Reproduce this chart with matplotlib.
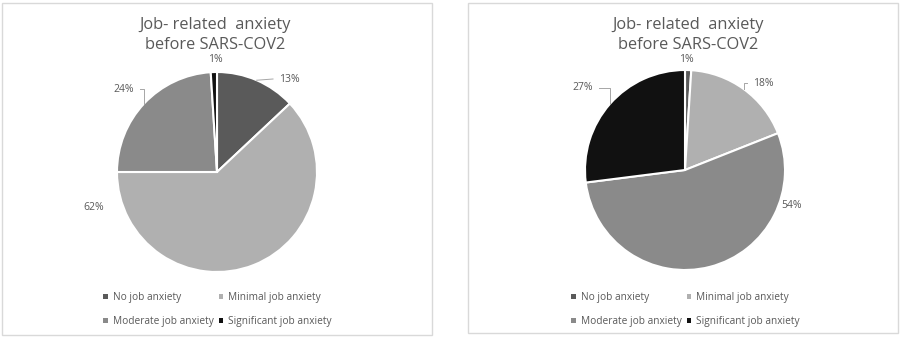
import matplotlib
matplotlib.use("Agg")
import matplotlib.pyplot as plt
from matplotlib.patches import Rectangle, Patch
import numpy as np

plt.rcParams['font.family'] = ['Open Sans', 'DejaVu Sans']

categories = ["No job anxiety", "Minimal job anxiety", "Moderate job anxiety", "Significant job anxiety"]
left_values = [13, 62, 24, 1]
right_values = [1, 18, 54, 27]
titles = ["Job- related  anxiety\nbefore SARS-COV2", "Job- related  anxiety\nbefore SARS-COV2"]
colors = ["#5a5a5a", "#b0b0b0", "#8a8a8a", "#111111"]
text_color = "#595959"

W, H = 900, 337
fig = plt.figure(figsize=(W / 100, H / 100), dpi=100)

panels = [dict(frame=(2, 3, 430, 332), center=(217, 172), title_x=215,
               legend_x=103,
               labels=[(0.72, 0.93), (-1.23, -0.36), (-0.93, 0.83), (-0.02, 1.13)],
               leaders=[True, False, True, False]),
          dict(frame=(468, 3, 430, 330), center=(685, 170), title_x=688,
               legend_x=571,
               labels=[(0.01, 1.11), (0.78, 0.87), (1.07, -0.36), (-1.02, 0.82)],
               leaders=[False, True, False, True])]

R = 100
span = 1.5

for values, title, p in zip([left_values, right_values], titles, panels):
    fx, fy, fw, fh = p['frame']
    fig.patches.append(Rectangle((fx / W, 1 - (fy + fh) / H), fw / W, fh / H,
                                 transform=fig.transFigure, fill=False,
                                 edgecolor="#d9d9d9", linewidth=1.0))
    cx, cy = p['center']
    size = R * span * 2
    ax = fig.add_axes([(cx - size / 2) / W, 1 - (cy + size / 2) / H, size / W, size / H])
    wedges, _ = ax.pie(values, colors=colors, startangle=90, counterclock=False,
                       radius=1.0, wedgeprops=dict(edgecolor="white", linewidth=1.5))
    ax.set_xlim(-span, span)
    ax.set_ylim(-span, span)
    ax.set_aspect('equal')
    ax.axis('off')
    for w, v, (lx, ly), lead in zip(wedges, values, p['labels'], p['leaders']):
        ang = np.deg2rad((w.theta1 + w.theta2) / 2)
        ex, ey = np.cos(ang), np.sin(ang)
        ax.text(lx, ly, f"{v}%", ha='center', va='center', fontsize=7.5, color=text_color)
        if lead:
            side = -1 if lx > ex else 1
            tx = lx + side * 0.16
            ax.plot([ex, ex, tx], [ey, ly, ly] if abs(ly - ey) > 0.05 else [ey, ey, ly],
                    color="#a6a6a6", linewidth=0.7, clip_on=False)
    fig.text(p['title_x'] / W, 1 - 35 / H, title, ha='center', va='center',
             fontsize=11.8, color=text_color, linespacing=1.3)
    order = [0, 2, 1, 3]  # row-major display in two columns
    handles = [Patch(facecolor=colors[i], edgecolor='none') for i in order]
    leg = fig.legend(handles, [categories[i] for i in order], ncol=2, frameon=False,
                     loc='upper left',
                     bbox_to_anchor=(p['legend_x'] / W, 1 - 292 / H),
                     fontsize=7.3, handlelength=0.45, handleheight=0.45,
                     handletextpad=0.5, columnspacing=0.5, labelspacing=1.3,
                     borderaxespad=0, borderpad=0)
    for t in leg.get_texts():
        t.set_color(text_color)

fig.savefig("out.png", dpi=100, facecolor="white")
